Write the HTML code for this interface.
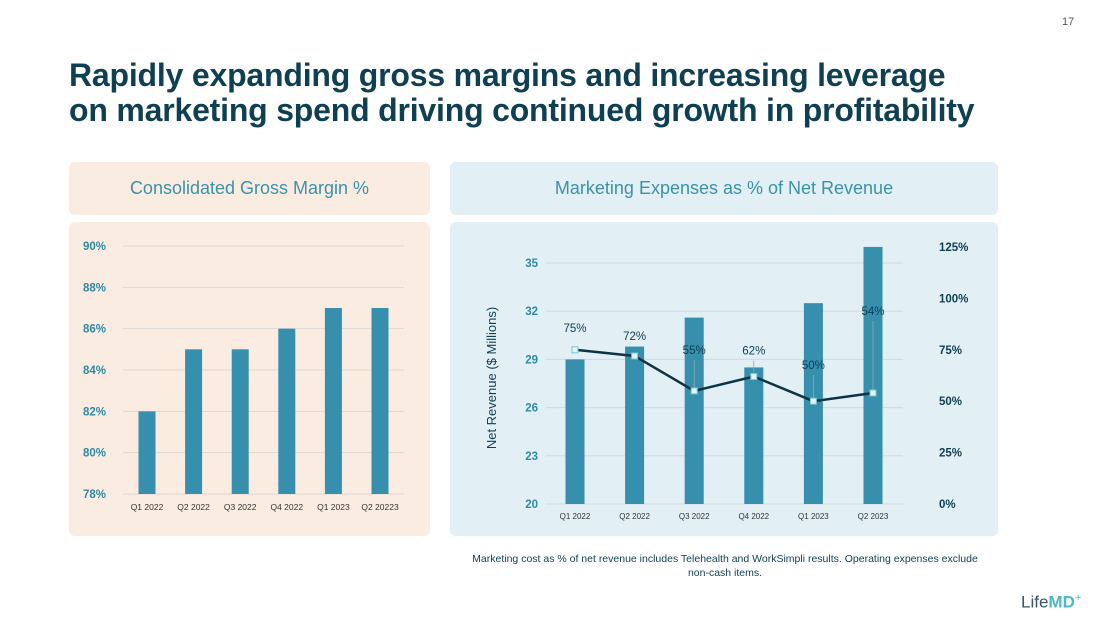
<!DOCTYPE html>
<html><head><meta charset="utf-8"><style>
body{margin:0;width:1100px;height:619px;background:#fff;font-family:"Liberation Sans",sans-serif;position:relative;overflow:hidden}
.abs{position:absolute}
h1{position:absolute;left:69px;top:58px;margin:0;font-size:32px;line-height:35px;color:#0e3f52;font-weight:bold;letter-spacing:-0.2px;white-space:nowrap}
.hdr{position:absolute;top:162px;height:53px;border-radius:6px;font-size:18px;line-height:53px;text-align:center;color:#3a93a8}
.pnl{position:absolute;top:222px;height:314px;border-radius:6px}
</style></head><body>
<div class="abs" style="left:1062px;top:16px;font-size:11px;color:#555">17</div>
<h1>Rapidly expanding gross margins and increasing leverage<br>on marketing spend driving continued growth in profitability</h1>
<div class="hdr" style="left:69px;width:361px;background:#fbece2">Consolidated Gross Margin %</div>
<div class="hdr" style="left:450px;width:548px;background:#e2eff5">Marketing Expenses as % of Net Revenue</div>
<div class="pnl" style="left:69px;width:361px;background:#fbece2"></div>
<div class="pnl" style="left:450px;width:548px;background:#e2eff5"></div>
<svg class="abs" style="left:0;top:0" width="1100" height="619">
<g id="g1"></g><g id="g2"></g>
</svg>
<div class="abs" style="left:470px;width:510px;top:552px;font-size:10.5px;line-height:14px;text-align:center;color:#0e3f52">Marketing cost as % of net revenue includes Telehealth and WorkSimpli results. Operating expenses exclude non-cash items.</div>
<div class="abs" style="left:1021px;top:592px;font-size:17px;color:#3a5563">Life<b style="color:#4fb8c3">MD</b><sup style="color:#4fb8c3;font-size:11px">+</sup></div>
<script>
const ns="http://www.w3.org/2000/svg";
function mk(p,t,a,txt){const e=document.createElementNS(ns,t);for(const k in a)e.setAttribute(k,a[k]);if(txt!==undefined)e.textContent=txt;p.appendChild(e);return e;}
// Chart 1 data
const gmCats=["Q1 2022","Q2 2022","Q3 2022","Q4 2022","Q1 2023","Q2 20223"];
const gmVals=[82,85,85,86,87,87];
const gmTicks=[78,80,82,84,86,88,90];
// Chart 2 data
const mkCats=["Q1 2022","Q2 2022","Q3 2022","Q4 2022","Q1 2023","Q2 2023"];
const revVals=[29.0,29.8,31.6,28.5,32.5,36.0];
const pctVals=[75,72,55,62,50,54];
const revTicks=[20,23,26,29,32,35];
const pctTicks=[0,25,50,75,100,125];

const g1=document.getElementById('g1');
const y1=v=>494-(v-78)*(248/12);
const x1=i=>147+i*46.6;
gmTicks.forEach(t=>{
 const l=mk(g1,'line',{x1:123,x2:404,y1:y1(t),y2:y1(t),stroke:'#ddd9d4','stroke-width':1});
 
 const tx=mk(g1,'text',{x:83,y:y1(t)+4,'font-size':11.5,'font-weight':'bold',fill:'#2f8aa5'},t+'%');
 
});
gmVals.forEach((v,i)=>{
 const r=mk(g1,'rect',{x:x1(i)-8.5,y:y1(v),width:17,height:y1(78)-y1(v),fill:'#358fad'});
 
 const t=mk(g1,'text',{x:x1(i),y:510,'font-size':8.5,'text-anchor':'middle',fill:'#333'},gmCats[i]);
 
});

const g2=document.getElementById('g2');
const y2=v=>504-(v-20)*(241/15);
const yp=v=>504-v*(257/125);
const x2=i=>575+i*59.6;
revTicks.forEach(t=>{
 const l=mk(g2,'line',{x1:546,x2:903,y1:y2(t),y2:y2(t),stroke:'#d3dadd','stroke-width':1});
 
 const tx=mk(g2,'text',{x:538,y:y2(t)+4,'font-size':11.5,'font-weight':'bold','text-anchor':'end',fill:'#2f8aa5'},t);
 
});
pctTicks.forEach(t=>{
 const tx=mk(g2,'text',{x:939,y:yp(t)+4,'font-size':11.5,'font-weight':'bold',fill:'#0e3f52'},t+'%');
 
});
const yt=mk(g2,'text',{x:0,y:0,'font-size':13,fill:'#0e3f52','text-anchor':'middle',transform:'translate(496,378) rotate(-90)'},'Net Revenue ($ Millions)');

revVals.forEach((v,i)=>{
 const r=mk(g2,'rect',{x:x2(i)-9.5,y:y2(v),width:19,height:y2(20)-y2(v),fill:'#358fad'});
 
 const t=mk(g2,'text',{x:x2(i),y:519,'font-size':8,'text-anchor':'middle',fill:'#333'},mkCats[i]);
 
});
const pts=pctVals.map((v,i)=>x2(i)+','+yp(v)).join(' ');
const pl=mk(g2,'polyline',{points:pts,fill:'none',stroke:'#0c3446','stroke-width':2.5});

const lblOff=[-18,-16,-37,-22,-32,-78];
pctVals.forEach((v,i)=>{
 const px=x2(i),py=yp(v),ly=py+lblOff[i];
 if(i>1){const ld=mk(g2,'line',{x1:px,x2:px,y1:ly+6,y2:py,stroke:'#9aa5aa','stroke-width':0.8});
  }
 const m=mk(g2,'rect',{x:px-3,y:py-3,width:6,height:6,fill:'#e2f3f5',stroke:'#7cc6cf','stroke-width':1});
 
 const t=mk(g2,'text',{x:px,y:ly,'font-size':11.5,'text-anchor':'middle',fill:'#0e3f52'},v+'%');
 
});
</script>
</body></html>
